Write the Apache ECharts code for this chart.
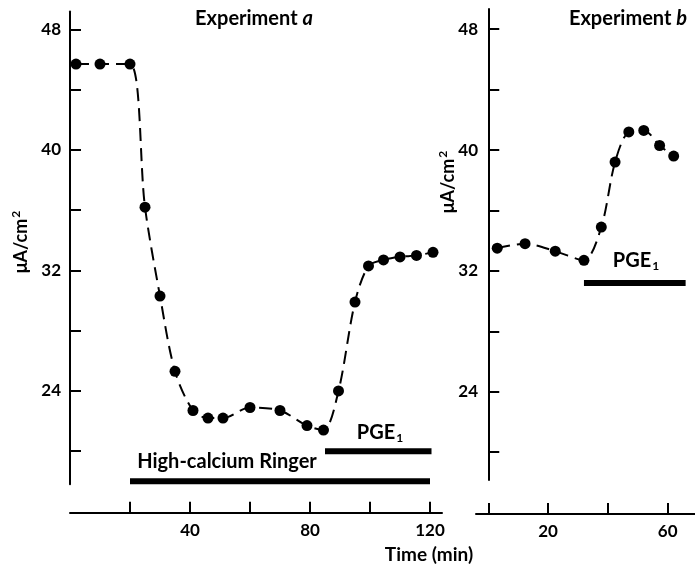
<!DOCTYPE html>
<html>
<head>
<meta charset="UTF-8">
<title>Experiment a / b</title>
<script src="https://cdn.jsdelivr.net/npm/echarts@6/dist/echarts.min.js"></script>
<style>
  body { margin: 0; padding: 0; background: #fff; }
  #main { width: 695px; height: 567px; }
</style>
</head>
<body>
<div id="main"></div>
<script>
// experiment a: time (min) and current (uA/cm2)
var timeA = [2, 10, 20, 25, 30, 35, 41, 46, 51, 60, 70, 79, 84.5, 89.5, 95, 99.5, 104.5, 110, 115.5, 121];
var currentA = [45.7, 45.7, 45.7, 36.2, 30.3, 25.3, 22.7, 22.2, 22.2, 22.9, 22.7, 21.7, 21.4, 24.0, 29.9, 32.3, 32.7, 32.9, 33.0, 33.2];
// experiment b
var timeB = [3, 12.3, 22.4, 32, 37.8, 42.4, 47, 52, 57.3, 62];
var currentB = [33.5, 33.8, 33.3, 32.7, 34.9, 39.2, 41.2, 41.3, 40.3, 39.6];
// treatment periods (min)
var ringerA = [20, 120];
var pgeA = [85, 120.5];
var pgeB = [32, 66];
// ticks and labels
var yTicks = [20, 24, 28, 32, 36, 40, 44, 48];
var yLabels = [24, 32, 40, 48];
var xTicksA = [20, 40, 60, 80, 100, 120];
var xLabelsA = [40, 80, 120];
var xTicksB = [0, 20, 40, 60];
var xLabelsB = [20, 60];

var FONT = 'Lato';
var chart = echarts.init(document.getElementById('main'));

function pairs(xs, ys) {
  return xs.map(function (x, i) { return [x, ys[i]]; });
}

function yAxisOpt(grid, min, max, margin) {
  return {
    type: 'value', gridIndex: grid, min: min, max: max,
    splitLine: { show: false },
    axisLine: { show: true, onZero: true, lineStyle: { color: '#000', width: 2 } },
    axisTick: { show: true, inside: true, length: 11, customValues: yTicks, lineStyle: { color: '#000', width: 2 } },
    axisLabel: { customValues: yLabels, margin: margin, color: '#000', fontFamily: FONT, fontSize: 17, fontWeight: 'bold' }
  };
}

function xAxisOpt(grid, min, max, offset, ticks, labels) {
  return {
    type: 'value', gridIndex: grid, min: min, max: max, offset: offset,
    splitLine: { show: false },
    axisLine: { show: true, onZero: false, lineStyle: { color: '#000', width: 2 } },
    axisTick: { show: true, inside: true, length: 11, customValues: ticks, lineStyle: { color: '#000', width: 2 } },
    axisLabel: { customValues: labels, margin: 9, color: '#000', fontFamily: FONT, fontSize: 17, fontWeight: 'bold' }
  };
}

function curve(xi, yi, data) {
  return {
    type: 'line', xAxisIndex: xi, yAxisIndex: yi, data: data,
    smooth: 0.3, symbol: 'circle', symbolSize: 11,
    itemStyle: { color: '#000' },
    lineStyle: { color: '#000', width: 2, type: [13, 7] },
    clip: false, silent: true
  };
}

function period(xi, yi, range, level) {
  return {
    type: 'line', xAxisIndex: xi, yAxisIndex: yi,
    data: [[range[0], level], [range[1], level]],
    symbol: 'none', lineStyle: { color: '#000', width: 6, cap: 'butt' },
    clip: false, silent: true
  };
}

var richBase = {
  i: { fontStyle: 'italic', fontFamily: FONT, fontSize: 20, fontWeight: 'bold' },
  sub: { fontFamily: FONT, fontSize: 12, fontWeight: 'bold', padding: [10, 0, 0, 1] },
  sup: { fontFamily: FONT, fontSize: 12, fontWeight: 'bold', padding: [0, 0, 9, 1] }
};

function label(x, y, text, size, rot) {
  return {
    type: 'text', x: x, y: y, rotation: rot || 0,
    style: {
      text: text, fill: '#000', fontFamily: FONT, fontSize: size, fontWeight: 'bold',
      align: 'center', verticalAlign: 'middle', rich: richBase
    }
  };
}

var option = {
  animation: false,
  backgroundColor: '#fff',
  grid: [
    { left: 70, top: 11.4, width: 372, height: 472.9 },
    { left: 476, top: 9, width: 218.6, height: 471 }
  ],
  xAxis: [
    xAxisOpt(0, 0, 124, 28.4, xTicksA, xLabelsA),
    xAxisOpt(1, -4.1, 69, 34, xTicksB, xLabelsB)
  ],
  yAxis: [
    yAxisOpt(0, 17.8, 49.2, 9),
    yAxisOpt(1, 18.15, 49.34, -2)
  ],
  series: [
    curve(0, 0, pairs(timeA, currentA)),
    curve(1, 1, pairs(timeB, currentB)),
    period(0, 0, ringerA, 18),
    period(0, 0, pgeA, 20),
    period(1, 1, pgeB, 31.2)
  ],
  graphic: [
    label(254, 19, 'Experiment {i|a}', 20),
    label(628, 19, 'Experiment {i|b}', 20),
    label(227, 462, 'High-calcium Ringer', 20),
    label(380, 433, 'PGE{sub|1}', 20),
    label(636, 261, 'PGE{sub|1}', 20),
    label(429, 555, 'Time (min)', 19),
    label(21, 242, '\u03bcA/cm{sup|2}', 18, Math.PI / 2),
    label(448, 182, '\u03bcA/cm{sup|2}', 18, Math.PI / 2)
  ]
};

chart.setOption(option);
</script>
</body>
</html>
